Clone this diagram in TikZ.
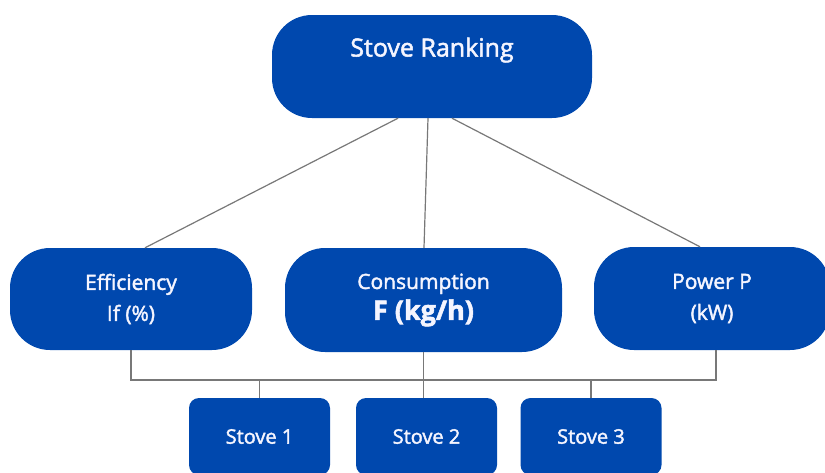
\documentclass[tikz,border=0pt]{standalone}
\usepackage{fontspec}
\setmainfont{Open Sans}[FakeBold=2]
\usepackage{tikz}
\usetikzlibrary{arrows.meta,calc,positioning}

\definecolor{rankblue}{RGB}{0,72,174}
\definecolor{linkgray}{RGB}{120,120,120}

\begin{document}
\begin{tikzpicture}[x=1pt,y=-1pt,
    pill/.style={fill=rankblue,rounded corners=40pt,text=blue!4!white,align=center,
      font=\fontsize{21}{31}\selectfont,inner sep=0pt},
    stovebox/.style={fill=rankblue,rounded corners=10pt,text=blue!4!white,
      minimum width=141pt,minimum height=77pt,inner sep=0pt,font=\fontsize{20}{22}\selectfont},
    link/.style={draw=linkgray,line width=1.2pt}]
  \useasboundingbox (0,0) rectangle (825,472);
  % top node
  \node[pill,minimum width=320pt,minimum height=103pt,text height=18pt,text depth=38pt,
    font=\fontsize{25}{28}\selectfont] (rank) at (432,66.5) {Stove Ranking};
  % criteria
  \node[pill,minimum width=242pt,minimum height=102pt] (eff) at (131,299) {Efficiency\\If (\%)};
  \node[pill,minimum width=277pt,minimum height=104pt] (cons) at (423.5,300)
    {Consumption\\{\fontsize{27}{31}\selectfont\bfseries F (kg/h)}};
  \node[pill,minimum width=236pt,minimum height=103pt] (pow) at (712,298.5) {Power P\\(kW)};
  % stoves
  \node[stovebox] (s1) at (259.5,436.5) {Stove 1};
  \node[stovebox] (s2) at (426.5,436.5) {Stove 2};
  \node[stovebox] (s3) at (591,436.5) {Stove 3};
  \coordinate (busL) at (131,380);
  \coordinate (busR) at (716,380);
  % links
  \draw[link] ($(rank.south)+(-34,0)$) -- ($(eff.north)+(14,0)$);
  \draw[link] ($(rank.south)+(-4,0)$) -- ($(cons.north)+(0.5,0)$);
  \draw[link] ($(rank.south)+(20,0)$) -- ($(pow.north)+(-12,0)$);
  \draw[link] (eff.south) -- (busL) -- (busR) -- (busR |- pow.south);
  \draw[link] (cons.south) -- (cons.south |- s2.north);
  \draw[link] (s1.north) -- (s1.north |- busL);
  \draw[link] (s3.north) -- (s3.north |- busL);
\end{tikzpicture}
\end{document}
